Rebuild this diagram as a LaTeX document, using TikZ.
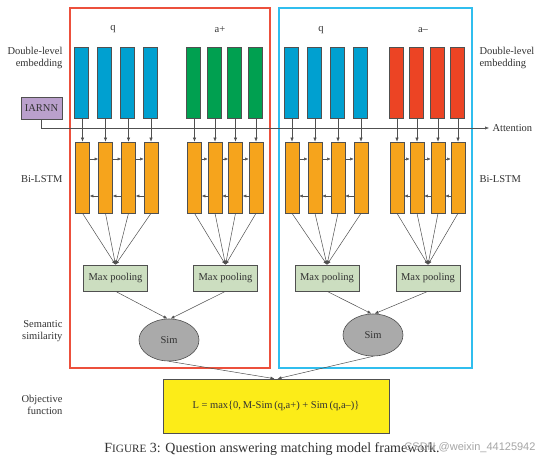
\documentclass[tikz,border=0pt]{standalone}
\usepackage{fontspec}
\setmainfont{Liberation Serif}
\newfontfamily\wmfont{Liberation Sans}
\usetikzlibrary{arrows.meta,calc,shapes.geometric}
\definecolor{embblue}{RGB}{0,160,208}
\definecolor{embgreen}{RGB}{0,160,80}
\definecolor{embred}{RGB}{236,68,36}
\definecolor{lstmorange}{RGB}{246,164,28}
\definecolor{iarnnpurple}{RGB}{186,160,204}
\definecolor{poolgreen}{RGB}{204,222,192}
\definecolor{simgray}{RGB}{170,170,170}
\definecolor{objyellow}{RGB}{252,236,24}
\definecolor{frred}{RGB}{236,80,60}
\definecolor{frblue}{RGB}{48,190,238}
\definecolor{txt}{RGB}{50,50,50}
\definecolor{edge}{RGB}{80,80,80}
\begin{document}
\begin{tikzpicture}[x=1pt,y=-1pt,
  every node/.style={text=txt},
  bar/.style={draw=edge,line width=0.6pt,minimum width=14pt,minimum height=71pt,inner sep=0pt},
  lstmbar/.style={bar,fill=lstmorange},
  pool/.style={draw=edge,line width=0.6pt,fill=poolgreen,minimum width=64pt,minimum height=26pt,inner sep=0pt,font=\fontsize{10.5}{12}\selectfont},
  simnode/.style={ellipse,draw=edge,line width=0.6pt,fill=simgray,minimum width=60pt,minimum height=42pt,inner sep=0pt,font=\fontsize{10.5}{12}\selectfont},
  lab/.style={font=\fontsize{10.5}{12.5}\selectfont},
  arr/.style={draw=edge,line width=0.5pt,-{Latex[length=4pt,width=3.2pt]}},
  thin arr/.style={draw=edge,line width=0.5pt,-{Latex[length=3.5pt,width=3pt]}}]
\useasboundingbox (0,0) rectangle (554,464);
\fill[white] (0,0) rectangle (554,464);
% frames
\draw[frred,line width=1.3pt] (70,8) rectangle (270,368);
\draw[frblue,line width=1.3pt] (279,8) rectangle (472,368);
% group labels
\node[lab] (tq1) at (113,29) {q};
\node[lab] (tap) at (220,30) {a+};
\node[lab] (tq2) at (321,30) {q};
\node[lab] (tan) at (423,30) {a\textendash};
% embedding bars
\foreach \x [count=\i] in {81.5,104.5,127.5,150} \node[bar,fill=embblue] (e\i) at (\x,82.5) {};
\foreach \x [count=\i from 5] in {193.5,214,234.5,255} \node[bar,fill=embgreen] (e\i) at (\x,82.5) {};
\foreach \x [count=\i from 9] in {291,314,337,360} \node[bar,fill=embblue] (e\i) at (\x,82.5) {};
\foreach \x [count=\i from 13] in {396,416,437,457} \node[bar,fill=embred] (e\i) at (\x,82.5) {};
% lstm bars
\foreach \x [count=\i] in {82.5,105.5,128.5,151,194.5,215,235.5,256,292,315,338,361,397,417,438,458} \node[lstmbar] (l\i) at (\x,177.5) {};
% IARNN and attention
\node[draw=edge,line width=0.6pt,fill=iarnnpurple,minimum width=41pt,minimum height=22pt,inner sep=0pt,lab] (iarnn) at (41.5,108) {IARNN};
\node[lab,anchor=west] (att) at (489,128) {Attention};
\draw[arr] (iarnn.south) |- (att.west);
% embedding -> lstm
\foreach \i in {1,...,16} \draw[arr] (e\i.south -| l\i.north) -- (l\i.north);
% bidirectional arrows
\foreach \i in {1,2,3,5,6,7,9,10,11,13,14,15} {
  \pgfmathtruncatemacro\j{\i+1}
  \draw[thin arr] ($(l\i.east)+(0,-18.5)$) -- ($(l\j.west)+(0,-18.5)$);
  \draw[thin arr] ($(l\j.west)+(0,18.5)$) -- ($(l\i.east)+(0,18.5)$);
}
% max pooling
\node[pool] (mp1) at (115.5,278) {Max pooling};
\node[pool] (mp2) at (225.5,278) {Max pooling};
\node[pool] (mp3) at (327,278) {Max pooling};
\node[pool] (mp4) at (428,278) {Max pooling};
\foreach \i/\m in {1/1,2/1,3/1,4/1,5/2,6/2,7/2,8/2,9/3,10/3,11/3,12/3,13/4,14/4,15/4,16/4}
  \draw[arr] (l\i.south) -- (mp\m.north);
% sim
\node[simnode] (sim1) at (169,340) {Sim};
\node[simnode] (sim2) at (373,335) {Sim};
\draw[arr] (mp1.south) -- ($(sim1.north)+(-1.5,0)$);
\draw[arr] (mp2.south) -- ($(sim1.north)+(1.5,0)$);
\draw[arr] (mp3.south) -- ($(sim2.north)+(-1.5,0)$);
\draw[arr] (mp4.south) -- ($(sim2.north)+(1.5,0)$);
% objective
\node[draw=edge,line width=0.6pt,fill=objyellow,minimum width=226pt,minimum height=54pt,inner sep=0pt,lab] (obj) at (276,406) {L = max\{0,\,M-Sim\,(q,a+) + Sim\,(q,a\textendash)\}};
\draw[arr] (sim1.south) -- ($(obj.north)+(-1.5,0)$);
\draw[arr] (sim2.south) -- ($(obj.north)+(1.5,0)$);
% side labels
\node[lab,anchor=east,align=right] (ld) at (66,58) {Double-level\\embedding};
\node[lab,anchor=west,align=left] (rd) at (476,58) {Double-level\\embedding};
\node[lab,anchor=east] (lb) at (66,179) {Bi-LSTM};
\node[lab,anchor=west] (rb) at (476,179) {Bi-LSTM};
\node[lab,anchor=east,align=right] (ls) at (66,331) {Semantic\\similarity};
\node[lab,anchor=east,align=right] (lo) at (66,405) {Objective\\function};
% caption
\node[font=\fontsize{14}{16}\selectfont] (cap) at (272,449) {F{\fontsize{11.2}{13}\selectfont IGURE} 3: Question answering matching model framework.};
\node[font=\wmfont\fontsize{11}{13}\selectfont,text=black!35] (wm) at (470,448) {CSDN @weixin\_44125942};
\end{tikzpicture}
\end{document}
